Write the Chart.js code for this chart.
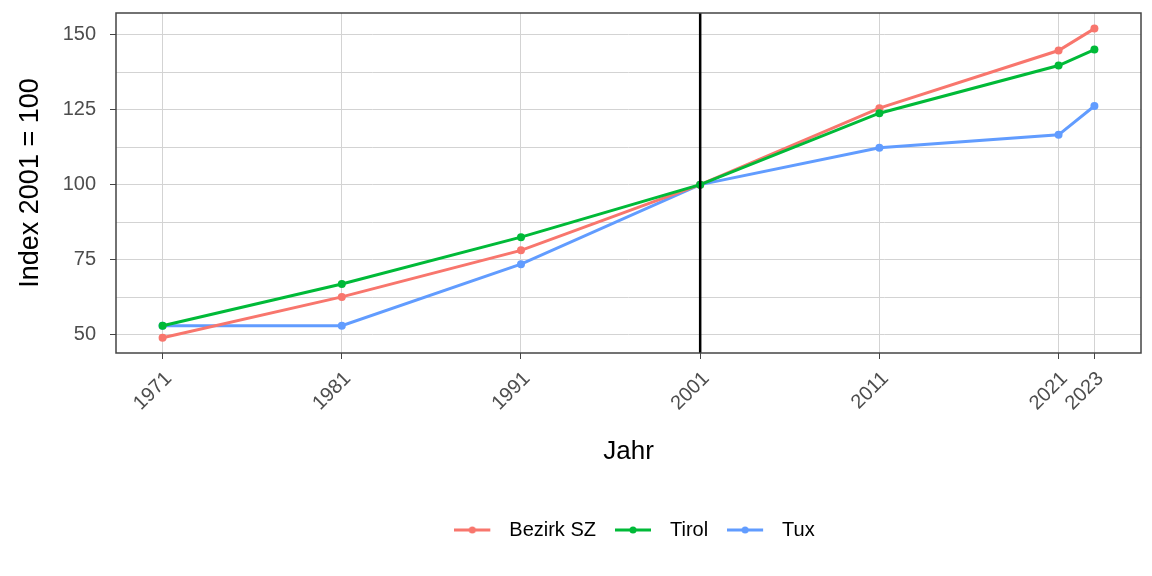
<!DOCTYPE html>
<html>
<head>
<meta charset="utf-8">
<script src="https://cdn.jsdelivr.net/npm/chart.js@4"></script>
<style>
    html, body { margin: 0; padding: 0; background: #fff; }
    #wrap { width: 1152px; height: 576px; }
</style>
</head>
<body>
<div id="wrap"><canvas id="chart" width="1152" height="576"></canvas></div>
<script>
// ---- data ----
const years = [1971, 1981, 1991, 2001, 2011, 2021, 2023];
const bezirkSZ = [49.0, 62.6, 78.1, 100, 125.5, 144.7, 152.0];
const tirol = [53.0, 66.9, 82.5, 100, 123.8, 139.7, 145.0];
const tux = [53.0, 53.0, 73.5, 100, 112.3, 116.6, 126.2];
const yTicks = [50, 62.5, 75, 87.5, 100, 112.5, 125, 137.5, 150];
const baseYear = 2001;

const FONT = '"Liberation Sans", Arial, sans-serif';
const colors = { bezirk: '#F8766D', tirol: '#00BA38', tux: '#619CFF' };

// legend key: line with a dot in the middle
function legendIcon(color) {
    const c = document.createElement('canvas');
    c.width = 45; c.height = 12;
    const g = c.getContext('2d');
    g.strokeStyle = color;
    g.lineWidth = 3;
    g.beginPath();
    g.moveTo(0, 6); g.lineTo(36, 6);
    g.stroke();
    g.fillStyle = color;
    g.beginPath();
    g.arc(18, 6, 3.5, 0, Math.PI * 2);
    g.fill();
    return c;
}

function series(label, values, color, order) {
    return {
        label,
        data: years.map((y, i) => ({ x: y, y: values[i] })),
        borderColor: color,
        backgroundColor: color,
        borderWidth: 3,
        pointRadius: 4,
        pointBorderWidth: 0,
        pointBackgroundColor: color,
        tension: 0,
        order,
        icon: legendIcon(color)
    };
}

// vertical reference line at 2001 + panel border
const extras = {
    id: 'extras',
    afterLayout(chart) {
        // legend is centred a bit right of the panel centre in the original
        chart.legend.left += 12;
    },
    afterDatasetsDraw(chart) {
        const { ctx, chartArea: a, scales } = chart;
        const x = scales.x.getPixelForValue(baseYear);
        ctx.save();
        ctx.strokeStyle = '#000';
        ctx.lineWidth = 2.5;
        ctx.beginPath();
        ctx.moveTo(x, a.top);
        ctx.lineTo(x, a.bottom);
        ctx.stroke();
        ctx.strokeStyle = '#444';
        ctx.lineWidth = 1.5;
        ctx.strokeRect(a.left, a.top, a.right - a.left, a.bottom - a.top);
        ctx.restore();
    }
};

new Chart(document.getElementById('chart'), {
    type: 'line',
    data: {
        datasets: [
            series('Bezirk SZ', bezirkSZ, colors.bezirk, 1),
            series('Tirol', tirol, colors.tirol, 0),
            series('Tux', tux, colors.tux, 2)
        ]
    },
    options: {
        responsive: false,
        animation: false,
        layout: { padding: { top: 13, right: 11, left: 0, bottom: 26 } },
        plugins: {
            tooltip: { enabled: false },
            legend: {
                position: 'bottom',
                fullSize: false,
                labels: {
                    usePointStyle: true,
                    pointStyleWidth: 45,
                    padding: 19,
                    color: '#000',
                    font: { family: FONT, size: 20 },
                    generateLabels(chart) {
                        const items = Chart.defaults.plugins.legend.labels.generateLabels(chart);
                        items.sort((a, b) => a.datasetIndex - b.datasetIndex);
                        items.forEach(it => {
                            it.pointStyle = chart.data.datasets[it.datasetIndex].icon;
                        });
                        return items;
                    }
                }
            }
        },
        scales: {
            x: {
                type: 'linear',
                min: 1968.4,
                max: 2025.6,
                afterBuildTicks(scale) {
                    scale.ticks = years.map(v => ({ value: v }));
                },
                afterFit(scale) {
                    scale.height = 148;
                    scale.paddingLeft = 0;
                    scale.paddingRight = 0;
                },
                ticks: {
                    autoSkip: false,
                    minRotation: 45,
                    maxRotation: 45,
                    padding: 8,
                    labelOffset: 6,
                    color: '#4D4D4D',
                    font: { family: FONT, size: 20 },
                    callback: v => String(v)
                },
                grid: { color: '#D3D3D3', lineWidth: 1, tickLength: 6, tickColor: '#444' },
                border: { display: false },
                title: {
                    display: true,
                    text: 'Jahr',
                    color: '#000',
                    font: { family: FONT, size: 26 },
                    padding: { top: 0, bottom: 34 }
                }
            },
            y: {
                min: 43.9,
                max: 157.2,
                afterBuildTicks(scale) {
                    scale.ticks = yTicks.map(v => ({ value: v }));
                },
                afterFit(scale) {
                    scale.width = 116;
                    scale.paddingTop = 0;
                    scale.paddingBottom = 0;
                },
                ticks: {
                    autoSkip: false,
                    padding: 14,
                    color: '#4D4D4D',
                    font: { family: FONT, size: 20 },
                    callback: v => (v % 25 === 0 ? String(v) : '')
                },
                grid: {
                    color: '#D3D3D3',
                    lineWidth: 1,
                    tickLength: 6,
                    tickColor: ctx => (ctx.tick && ctx.tick.value % 25 === 0 ? '#444' : 'rgba(0,0,0,0)')
                },
                border: { display: false },
                title: {
                    display: true,
                    text: 'Index 2001 = 100',
                    color: '#000',
                    font: { family: FONT, size: 27 },
                    padding: { top: 14, bottom: 0 }
                }
            }
        }
    },
    plugins: [extras]
});
</script>
</body>
</html>
